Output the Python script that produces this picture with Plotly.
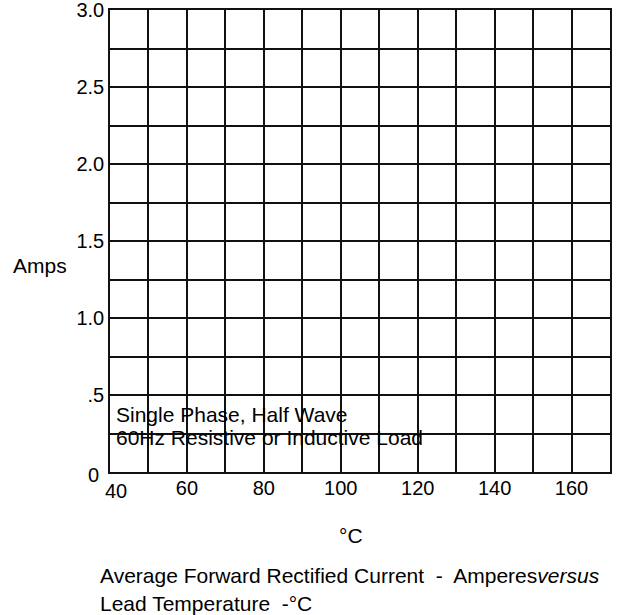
import plotly.graph_objects as go

# ---- data ----
x_range = [40, 170]
y_range = [0, 3.0]
x_grid_values = [40, 50, 60, 70, 80, 90, 100, 110, 120, 130, 140, 150, 160, 170]
x_tick_labels = ["", "", "60", "", "80", "", "100", "", "120", "", "140", "", "160", ""]
y_grid_values = [0, 0.25, 0.5, 0.75, 1.0, 1.25, 1.5, 1.75, 2.0, 2.25, 2.5, 2.75, 3.0]
y_tick_labels = ["", "", ".5", "", "1.0", "", "1.5", "", "2.0", "", "2.5", "", "3.0"]
x_origin_label = "40"
y_origin_label = "0"
y_axis_label = "Amps"
x_axis_label = "°C"
note_lines = ["Single Phase, Half Wave", "60Hz Resistive or Inductive Load"]
caption_lines = ["Average Forward Rectified Current  -  Amperes<i>versus</i>",
                 "Lead Temperature  -°C"]

FONT = "Liberation Sans, Arial, sans-serif"
FS_TICK = 20
FS = 21

L, R, T, B = 110, 10, 10, 143
W, H = 620, 615
def px(xp): return (xp - L) / (W - L - R)
def py(yp): return (H - B - yp) / (H - T - B)

fig = go.Figure()
fig.add_trace(go.Scatter(x=x_range, y=y_range, mode="markers",
                         marker=dict(opacity=0), hoverinfo="skip", showlegend=False))

axis_common = dict(showgrid=True, gridcolor="#111111", gridwidth=1.5,
                   showline=True, linecolor="#111111", linewidth=1.6, mirror=True,
                   zeroline=False, ticks="", automargin=False, ticklabeloverflow="allow",
                   tickfont=dict(family=FONT, size=FS_TICK, color="black"),
                   tickmode="array", fixedrange=True)

fig.update_xaxes(range=x_range, tickvals=x_grid_values, ticktext=x_tick_labels,
                 ticklabelstandoff=-3, **axis_common)
fig.update_yaxes(range=y_range, tickvals=y_grid_values, ticktext=y_tick_labels,
                 ticklabelstandoff=0, **axis_common)

fig.add_annotation(x=x_range[0], y=y_range[0], xref="x", yref="y", text=x_origin_label,
                   showarrow=False, xanchor="center", yanchor="top", xshift=6, yshift=-6,
                   font=dict(size=FS_TICK))
fig.add_annotation(x=x_range[0], y=y_range[0], xref="x", yref="y", text=y_origin_label,
                   showarrow=False, xanchor="right", yanchor="middle", xshift=-9, yshift=-3,
                   font=dict(size=FS_TICK))
fig.add_annotation(x=px(40), y=py(265), xref="paper", yref="paper", text=y_axis_label,
                   showarrow=False, xanchor="center", yanchor="middle")
for i, line in enumerate(note_lines):
    fig.add_annotation(x=x_range[0], y=y_range[0], xref="x", yref="y", text=line,
                       showarrow=False, xanchor="left", yanchor="middle",
                       xshift=4, yshift=[58, 35][i])
fig.add_annotation(x=px(351), y=py(535), xref="paper", yref="paper", text=x_axis_label,
                   showarrow=False, xanchor="center", yanchor="middle")
fig.add_annotation(x=px(98), y=py(575), xref="paper", yref="paper", text=caption_lines[0],
                   showarrow=False, xanchor="left", yanchor="middle")
fig.add_annotation(x=px(98), y=py(603), xref="paper", yref="paper", text=caption_lines[1],
                   showarrow=False, xanchor="left", yanchor="middle")

fig.update_layout(width=W, height=H, margin=dict(l=L, r=R, t=T, b=B, autoexpand=False),
                  paper_bgcolor="white", plot_bgcolor="white",
                  font=dict(family=FONT, size=FS, color="black"),
                  showlegend=False)

fig.write_html("out.html", config={"displayModeBar": False, "responsive": False},
               post_script="document.body.style.margin='0';document.body.style.overflow='hidden';")
